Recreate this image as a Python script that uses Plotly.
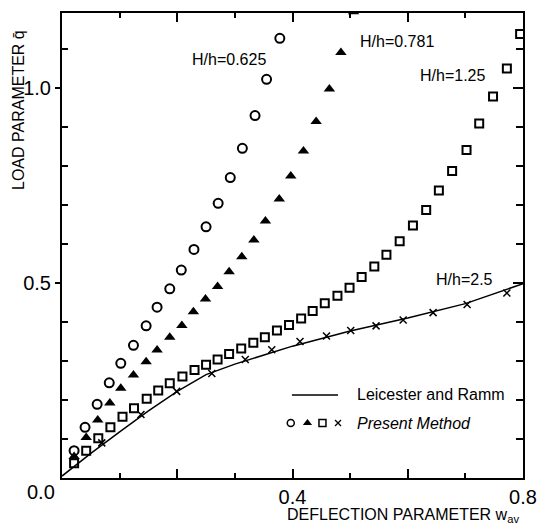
import plotly.graph_objects as go

# H/h = 0.625 (open circles)
circle_x = [0.021, 0.040, 0.061, 0.082, 0.102, 0.124, 0.146, 0.165, 0.187, 0.207,
            0.229, 0.250, 0.271, 0.292, 0.313, 0.335, 0.355, 0.378]
circle_y = [0.070, 0.130, 0.189, 0.244, 0.294, 0.340, 0.390, 0.438, 0.485, 0.533,
            0.586, 0.644, 0.704, 0.770, 0.845, 0.929, 1.022, 1.127]

# H/h = 0.781 (filled triangles)
tri_x = [0.021, 0.042, 0.062, 0.083, 0.102, 0.124, 0.146, 0.165, 0.187, 0.208,
         0.228, 0.249, 0.270, 0.290, 0.312, 0.333, 0.353, 0.377, 0.397, 0.419,
         0.441, 0.464, 0.484, 0.506]
tri_y = [0.055, 0.104, 0.149, 0.192, 0.230, 0.264, 0.298, 0.328, 0.361, 0.391,
         0.426, 0.459, 0.491, 0.529, 0.567, 0.610, 0.659, 0.715, 0.774, 0.838,
         0.914, 0.997, 1.091, 1.195]

# H/h = 1.25 (open squares)
sq_x = [0.021, 0.042, 0.063, 0.084, 0.105, 0.125, 0.147, 0.167, 0.187, 0.209,
        0.230, 0.250, 0.270, 0.290, 0.311, 0.332, 0.352, 0.373, 0.394, 0.415,
        0.435, 0.456, 0.478, 0.499, 0.520, 0.542, 0.563, 0.586, 0.609, 0.632,
        0.654, 0.677, 0.702, 0.724, 0.748, 0.772, 0.795]
sq_y = [0.038, 0.070, 0.102, 0.130, 0.157, 0.179, 0.203, 0.224, 0.243, 0.260,
        0.277, 0.290, 0.304, 0.318, 0.332, 0.347, 0.361, 0.378, 0.392, 0.409,
        0.428, 0.448, 0.467, 0.488, 0.515, 0.542, 0.572, 0.607, 0.647, 0.687,
        0.737, 0.787, 0.841, 0.909, 0.978, 1.050, 1.138]

# H/h = 2.5 (crosses)
cross_x = [0.069, 0.137, 0.199, 0.260, 0.318, 0.364, 0.413, 0.459, 0.501, 0.545,
           0.592, 0.644, 0.703, 0.772]
cross_y = [0.090, 0.163, 0.222, 0.268, 0.304, 0.329, 0.350, 0.364, 0.378, 0.390,
           0.405, 0.424, 0.445, 0.474]

# Leicester and Ramm (solid line)
lr_x = [0.0, 0.05, 0.1, 0.15, 0.2, 0.25, 0.3, 0.35, 0.4, 0.5, 0.6, 0.7, 0.8]
lr_y = [0.005, 0.063, 0.118, 0.172, 0.222, 0.265, 0.292, 0.315, 0.338, 0.377, 0.410, 0.447, 0.498]

series_labels = ["H/h=0.625", "H/h=0.781", "H/h=1.25", "H/h=2.5"]
x_label_ticks = [0.4, 0.8]
x_label_text = ["0.4", "0.8"]
x_major_ticks = [0.2, 0.4, 0.6]
x_minor_ticks = [0.1, 0.3, 0.5, 0.7]
y_ticks = [0.5, 1.0]
y_ticktext = ["0.5", "1.0"]
y_minor_ticks = [0.1, 0.2, 0.3, 0.4, 0.6, 0.7, 0.8, 0.9, 1.1]

FONT = "Liberation Sans, Arial, Helvetica, sans-serif"
XR = [0, 0.8]
YR = [0, 1.192]

fig = go.Figure()
fig.add_trace(go.Scatter(x=lr_x, y=lr_y, mode="lines",
                         line=dict(color="black", width=1.5), showlegend=False))
fig.add_trace(go.Scatter(x=circle_x, y=circle_y, mode="markers",
                         marker=dict(symbol="circle-open", size=9, color="black",
                                     line=dict(width=2, color="black")), showlegend=False))
fig.add_trace(go.Scatter(x=tri_x, y=tri_y, mode="markers",
                         marker=dict(symbol="triangle-up", size=10, color="black"), showlegend=False))
fig.add_trace(go.Scatter(x=sq_x, y=sq_y, mode="markers",
                         marker=dict(symbol="square-open", size=8, color="black",
                                     line=dict(width=2, color="black")), showlegend=False))
fig.add_trace(go.Scatter(x=cross_x, y=cross_y, mode="markers",
                         marker=dict(symbol="x-thin-open", size=7, color="black",
                                     line=dict(width=1.5, color="black")), showlegend=False))

# legend keys (on the mirrored overlay axes, same scales)
fig.add_trace(go.Scatter(x=[0.399, 0.479], y=[0.213, 0.213], mode="lines",
                         line=dict(color="black", width=1.5),
                         xaxis="x2", yaxis="y2", showlegend=False))
fig.add_trace(go.Scatter(x=[0.397], y=[0.141], mode="markers", xaxis="x2", yaxis="y2",
                         marker=dict(symbol="circle-open", size=7, color="black",
                                     line=dict(width=1.5, color="black")), showlegend=False))
fig.add_trace(go.Scatter(x=[0.426], y=[0.141], mode="markers", xaxis="x2", yaxis="y2",
                         marker=dict(symbol="triangle-up", size=8, color="black"), showlegend=False))
fig.add_trace(go.Scatter(x=[0.452], y=[0.141], mode="markers", xaxis="x3", yaxis="y",
                         marker=dict(symbol="square-open", size=7, color="black",
                                     line=dict(width=1.5, color="black")), showlegend=False))
fig.add_trace(go.Scatter(x=[0.479], y=[0.141], mode="markers", xaxis="x3", yaxis="y",
                         marker=dict(symbol="x-thin-open", size=6, color="black",
                                     line=dict(width=1.3, color="black")), showlegend=False))

tick_common = dict(tickwidth=1.5, tickcolor="black")
minor_x = dict(tickvals=x_minor_ticks, ticks="inside", ticklen=5, showgrid=False, **tick_common)

fig.update_layout(
    width=538, height=526,
    margin=dict(l=62, r=15, t=13, b=48),
    paper_bgcolor="white", plot_bgcolor="white",
    font=dict(family=FONT, color="black", size=16),
    xaxis=dict(range=XR, showline=True, linecolor="black", linewidth=2, automargin=False,
               showgrid=False, zeroline=False, ticks="inside", ticklen=9,
               tickmode="array", tickvals=x_label_ticks, ticktext=x_label_text,
               tickfont=dict(size=20), minor=minor_x, **tick_common),
    xaxis3=dict(range=XR, overlaying="x", side="bottom", anchor="y", showline=False,
                automargin=False, showgrid=False, zeroline=False, ticks="inside",
                ticklen=9, tickmode="array", tickvals=x_major_ticks,
                showticklabels=False, **tick_common),
    xaxis2=dict(range=XR, overlaying="x", side="top", anchor="y2", showline=True,
                automargin=False, linecolor="black", linewidth=2, showgrid=False,
                zeroline=False, ticks="inside", ticklen=9, tickmode="array",
                tickvals=x_major_ticks, showticklabels=False, minor=minor_x, **tick_common),
    yaxis=dict(range=YR, showline=True, linecolor="black", linewidth=2, automargin=False,
               showgrid=False, zeroline=False, ticks="outside", ticklen=5,
               tickmode="array", tickvals=y_ticks, ticktext=y_ticktext,
               tickfont=dict(size=20),
               minor=dict(tickvals=y_minor_ticks, ticks="inside", ticklen=6,
                          showgrid=False, **tick_common), **tick_common),
    yaxis2=dict(range=YR, overlaying="y", side="right", anchor="x2", showline=True,
                automargin=False, linecolor="black", linewidth=2, showgrid=False,
                zeroline=False, ticks="inside", ticklen=10, tickmode="array",
                tickvals=y_ticks, showticklabels=False,
                minor=dict(tickvals=y_minor_ticks, ticks="inside", ticklen=7,
                           showgrid=False, **tick_common), **tick_common),
)

ann = []
for label, (ax, ay) in zip(series_labels, [(0.290, 1.072), (0.582, 1.119), (0.678, 1.033), (0.699, 0.508)]):
    ann.append(dict(x=ax, y=ay, xref="x", yref="y", text=label, showarrow=False,
                    xanchor="center", yanchor="middle", font=dict(size=16)))
ann.append(dict(x=0.508, y=0.213, xref="x", yref="y", text="Leicester and Ramm",
                showarrow=False, xanchor="left", yanchor="middle", font=dict(size=16)))
ann.append(dict(x=0.508, y=0.141, xref="x", yref="y", text="<i>Present Method</i>",
                showarrow=False, xanchor="left", yanchor="middle", font=dict(size=16)))
ann.append(dict(x=(41 - 62) / 461, y=(478 - 492) / 465, xref="paper", yref="paper",
                text="0.0", showarrow=False, xanchor="center", yanchor="middle",
                font=dict(size=20)))
ann.append(dict(x=(521 - 62) / 461, y=(478 - 515) / 465, xref="paper", yref="paper",
                text="DEFLECTION PARAMETER w<sub>av</sub>", showarrow=False,
                xanchor="right", yanchor="middle", font=dict(size=16)))
ann.append(dict(x=(18 - 62) / 461, y=(478 - 110) / 465, xref="paper", yref="paper",
                text="LOAD PARAMETER q\u0304", showarrow=False, textangle=-90,
                xanchor="center", yanchor="middle", font=dict(size=16)))
fig.update_layout(annotations=ann)

fig.write_html("out.html")
